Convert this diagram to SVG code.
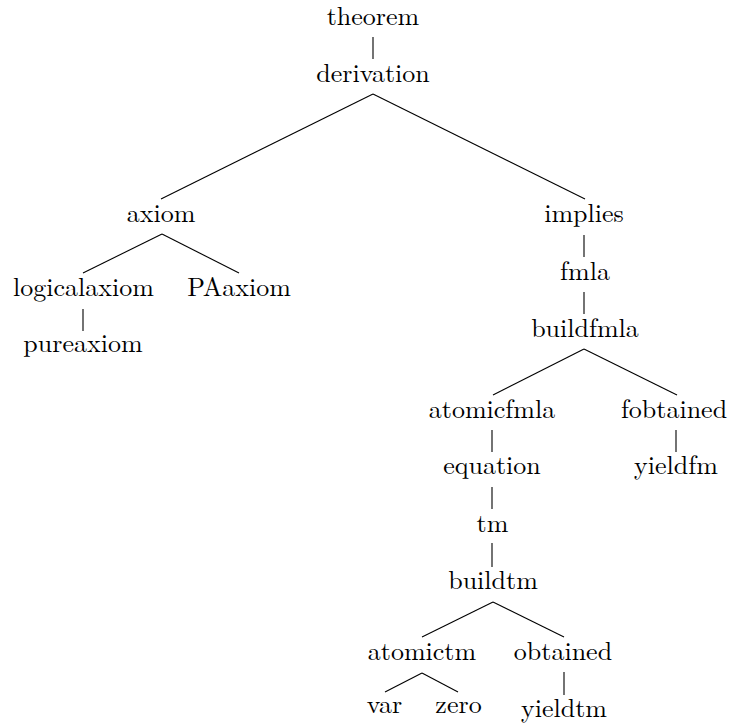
<svg xmlns="http://www.w3.org/2000/svg" width="732" height="724" viewBox="0 0 732 724">
<style>
.e line{stroke:#000;stroke-width:1.1}
.n text{text-anchor:middle;fill:#000}
</style>
<rect width="732" height="724" fill="#fff"/>
<g class="e" id="connectors">
<line x1="373" y1="37" x2="373" y2="59"/>
<line x1="373" y1="94" x2="161" y2="199"/>
<line x1="373" y1="94" x2="585" y2="199"/>
<line x1="162" y1="234" x2="83" y2="273"/>
<line x1="162" y1="234" x2="239" y2="273"/>
<line x1="83" y1="309" x2="83" y2="331"/>
<line x1="584" y1="235" x2="584" y2="257"/>
<line x1="584" y1="292" x2="584" y2="314"/>
<line x1="584" y1="349" x2="493" y2="395"/>
<line x1="584" y1="349" x2="677" y2="395"/>
<line x1="492" y1="430" x2="492" y2="452"/>
<line x1="676" y1="430" x2="676" y2="452"/>
<line x1="492" y1="487" x2="492" y2="509"/>
<line x1="492" y1="543" x2="492" y2="567"/>
<line x1="493" y1="602" x2="422" y2="637"/>
<line x1="493" y1="602" x2="564" y2="637"/>
<line x1="422" y1="673" x2="385" y2="692"/>
<line x1="422" y1="673" x2="458" y2="692"/>
<line x1="564" y1="672" x2="564" y2="695"/>
</g>
<g class="n" font-family="Latin Modern Roman, Liberation Serif, serif" font-size="26">
<g id="n-theorem"><text x="373" y="25">theorem</text></g>
<g id="n-derivation"><text x="373" y="82">derivation</text></g>
<g id="n-axiom"><text x="161" y="222">axiom</text></g>
<g id="n-implies"><text x="584" y="222">implies</text></g>
<g id="n-logicalaxiom"><text x="83.5" y="296">logicalaxiom</text></g>
<g id="n-PAaxiom"><text x="239" y="296">PAaxiom</text></g>
<g id="n-pureaxiom"><text x="83" y="352">pureaxiom</text></g>
<g id="n-fmla"><text x="585" y="280">fmla</text></g>
<g id="n-buildfmla"><text x="585" y="337">buildfmla</text></g>
<g id="n-atomicfmla"><text x="492" y="418">atomicfmla</text></g>
<g id="n-fobtained"><text x="674" y="418">fobtained</text></g>
<g id="n-equation"><text x="492" y="474">equation</text></g>
<g id="n-yieldfm"><text x="676" y="474">yieldfm</text></g>
<g id="n-tm"><text x="492.5" y="532">tm</text></g>
<g id="n-buildtm"><text x="493" y="589">buildtm</text></g>
<g id="n-atomictm"><text x="422" y="660">atomictm</text></g>
<g id="n-obtained"><text x="563" y="660">obtained</text></g>
<g id="n-var"><text x="384.5" y="713">var</text></g>
<g id="n-zero"><text x="458.5" y="713">zero</text></g>
<g id="n-yieldtm"><text x="564" y="717">yieldtm</text></g>
</g>
</svg>
